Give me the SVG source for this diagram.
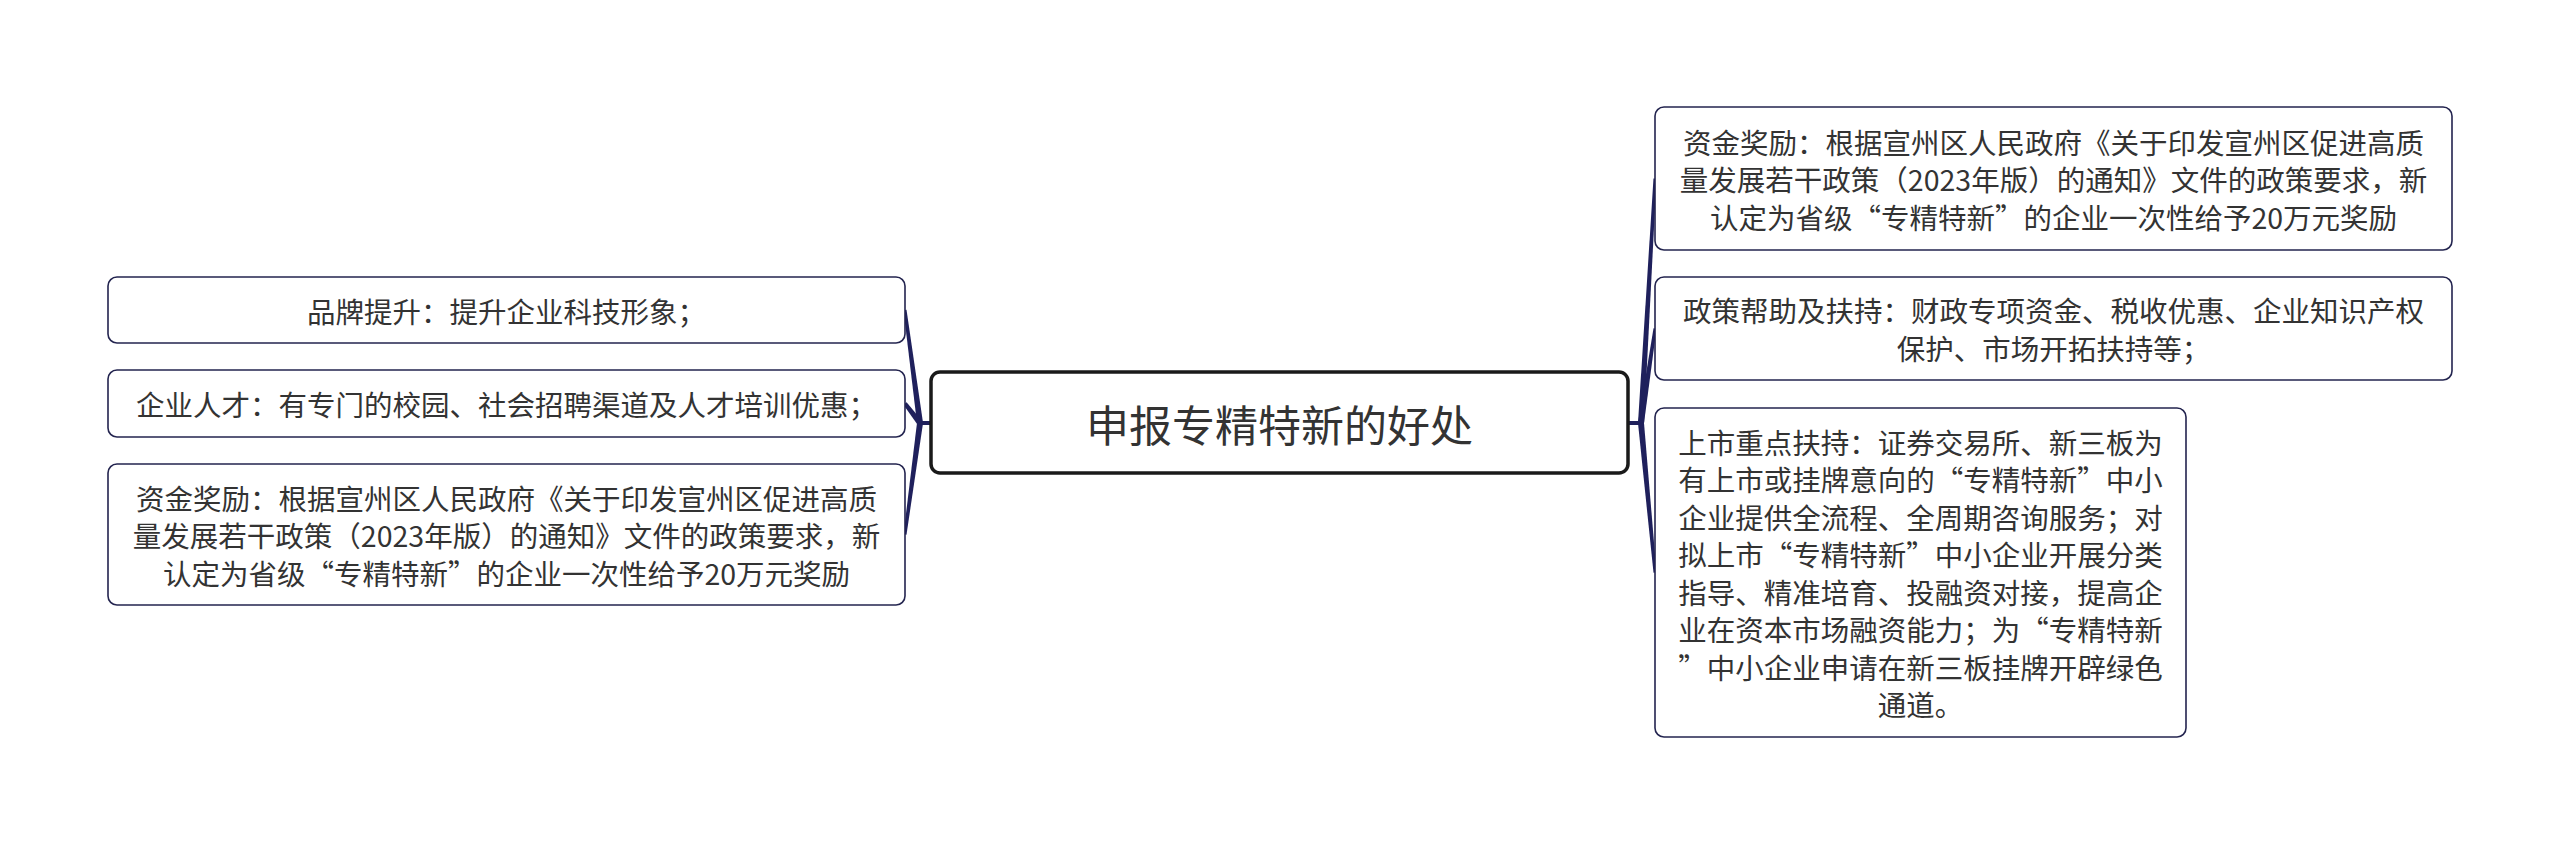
<svg xmlns="http://www.w3.org/2000/svg" width="2560" height="846" viewBox="0 0 2560 846">
<style>
.bg{fill:#ffffff}
.root rect{fill:#ffffff;stroke:#1a1a1a;stroke-width:3.5}
.node rect{fill:#ffffff;stroke:#23244f;stroke-width:1.6}
.t{font-family:"Noto Sans CJK SC","Noto Sans",sans-serif;fill:#333333;text-anchor:middle;dominant-baseline:central}
.tr{font-size:43px}
.tn{font-size:28.5px}
.conn path,.conn rect{fill:#1f205c;stroke:none}
</style>
<rect class="bg" x="0" y="0" width="2560" height="846"/>
<g id="connectors" class="conn">
<rect x="919" y="421" width="13" height="4"/>
<path d="M922.97 422.6 L906.5 309.8 L903.5 310.2 L917.03 423.4 Z"/>
<path d="M922.38 421.17 L906.59 402.28 L903.41 404.72 L917.62 424.83 Z"/>
<path d="M922.97 423.4 L906.49 534.7 L903.51 534.3 L917.03 422.6 Z"/>
<rect x="1628" y="421" width="14" height="4"/>
<path d="M1643.99 423.17 L1656.5 178.59 L1653.5 178.41 L1638.0 422.83 Z"/>
<path d="M1643.97 423.44 L1656.48 328.72 L1653.52 328.28 L1638.03 422.56 Z"/>
<path d="M1643.99 422.72 L1656.49 572.36 L1653.51 572.64 L1638.01 423.28 Z"/>
</g>
<g id="root" class="root">
<rect x="931" y="372" width="697" height="101" rx="9"/>
<text class="t tr" x="1279.5" y="422.5">申报专精特新的好处</text>
</g>
<g id="left1" class="node">
<rect x="108" y="277" width="797" height="66" rx="9"/>
<text class="t tn" x="506.5" y="310">品牌提升：提升企业科技形象；</text>
</g>
<g id="left2" class="node">
<rect x="108" y="370" width="797" height="67" rx="9"/>
<text class="t tn" x="506.5" y="403.5">企业人才：有专门的校园、社会招聘渠道及人才培训优惠；</text>
</g>
<g id="left3" class="node">
<rect x="108" y="464" width="797" height="141" rx="9"/>
<text class="t tn" x="506.5" y="497">资金奖励：根据宣州区人民政府《关于印发宣州区促进高质</text>
<text class="t tn" x="506.5" y="534.5">量发展若干政策（2023年版）的通知》文件的政策要求，新</text>
<text class="t tn" x="506.5" y="572">认定为省级“专精特新”的企业一次性给予20万元奖励</text>
</g>
<g id="right1" class="node">
<rect x="1655" y="107" width="797" height="143" rx="9"/>
<text class="t tn" x="2053.5" y="141">资金奖励：根据宣州区人民政府《关于印发宣州区促进高质</text>
<text class="t tn" x="2053.5" y="178.5">量发展若干政策（2023年版）的通知》文件的政策要求，新</text>
<text class="t tn" x="2053.5" y="216">认定为省级“专精特新”的企业一次性给予20万元奖励</text>
</g>
<g id="right2" class="node">
<rect x="1655" y="277" width="797" height="103" rx="9"/>
<text class="t tn" x="2053.5" y="309.75">政策帮助及扶持：财政专项资金、税收优惠、企业知识产权</text>
<text class="t tn" x="2053.5" y="347.25">保护、市场开拓扶持等；</text>
</g>
<g id="right3" class="node">
<rect x="1655" y="408" width="531" height="329" rx="9"/>
<text class="t tn" x="1920.5" y="441.25">上市重点扶持：证券交易所、新三板为</text>
<text class="t tn" x="1920.5" y="478.75">有上市或挂牌意向的“专精特新”中小</text>
<text class="t tn" x="1920.5" y="516.25">企业提供全流程、全周期咨询服务；对</text>
<text class="t tn" x="1920.5" y="553.75">拟上市“专精特新”中小企业开展分类</text>
<text class="t tn" x="1920.5" y="591.25">指导、精准培育、投融资对接，提高企</text>
<text class="t tn" x="1920.5" y="628.75">业在资本市场融资能力；为“专精特新</text>
<text class="t tn" x="1920.5" y="666.25">”中小企业申请在新三板挂牌开辟绿色</text>
<text class="t tn" x="1920.5" y="703.75">通道。</text>
</g>
</svg>
